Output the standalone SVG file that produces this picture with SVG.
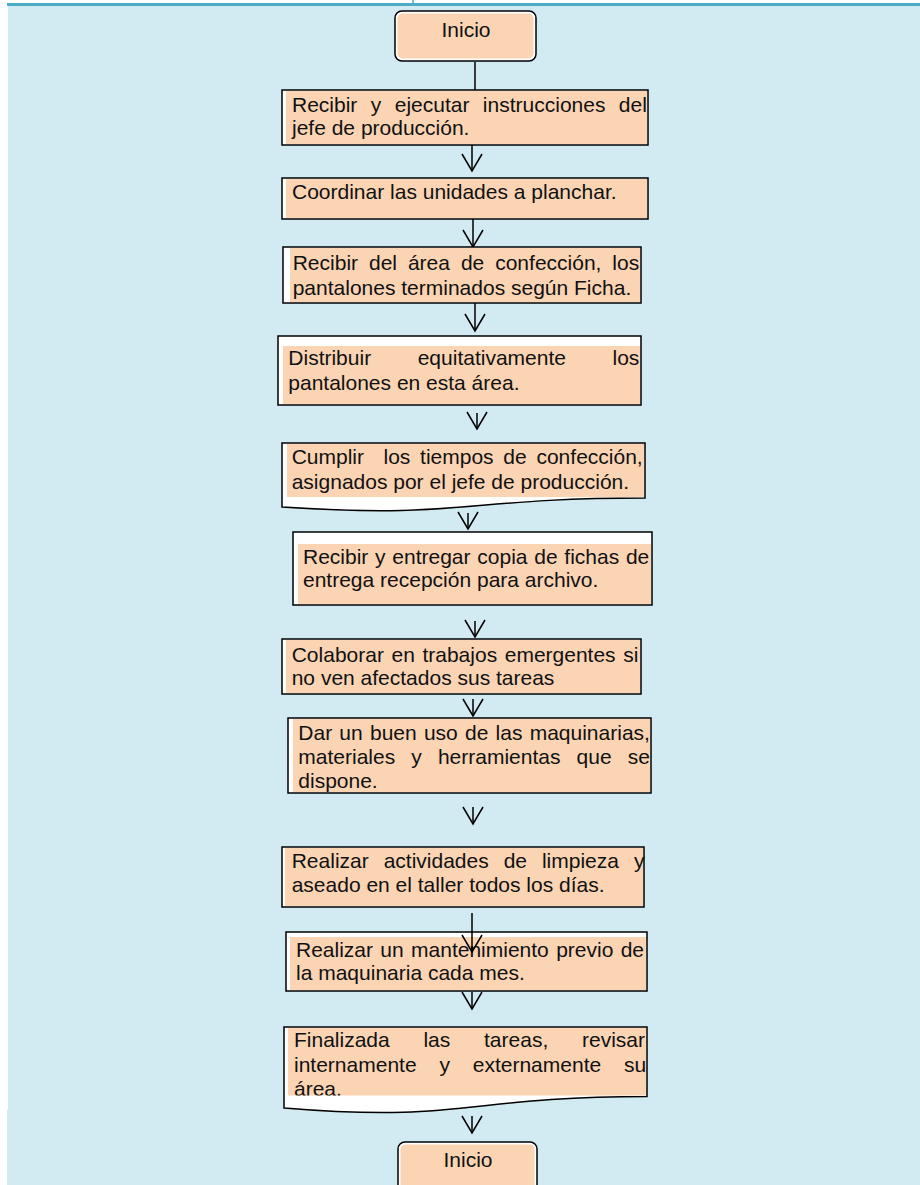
<svg xmlns="http://www.w3.org/2000/svg" width="920" height="1185" viewBox="0 0 920 1185">
<style>
.box{fill:#ffffff;stroke:#000;stroke-width:1.5}
.pe{fill:#FBD4B4}
.t{font-family:"Liberation Sans",Arial,sans-serif;font-size:21px;fill:#111}
.c{stroke:#000;stroke-width:1.5;fill:none}
</style>
<defs>
<marker id="v" viewBox="-18 -11 20 22" refX="0" refY="0" markerWidth="20" markerHeight="22" markerUnits="userSpaceOnUse" orient="auto">
<path d="M-17,-10 L0,0 L-17,10" fill="none" stroke="#000" stroke-width="1.5"/>
</marker>
<clipPath id="clip11"><rect x="280" y="1020" width="380" height="75.5"/></clipPath>
</defs>
<rect x="8" y="6" width="912" height="1179" fill="#D2EAF1"/>
<rect x="7" y="1110" width="2" height="75" fill="#D2EAF1"/>
<rect x="7" y="3" width="913" height="3" fill="#4BACC6"/>
<line x1="413" y1="0" x2="413" y2="3.5" stroke="#4BACC6" stroke-width="1.5"/>

<g id="connectors">
<line class="c" x1="475" y1="62" x2="475" y2="90"/>
<line class="c" x1="472" y1="145" x2="472" y2="171" marker-end="url(#v)"/>
<line class="c" x1="473" y1="219" x2="473" y2="247" marker-end="url(#v)"/>
<line class="c" x1="475" y1="303" x2="475" y2="331" marker-end="url(#v)"/>
<line class="c" x1="477" y1="413" x2="477" y2="429" marker-end="url(#v)"/>
<line class="c" x1="468" y1="513" x2="468" y2="529" marker-end="url(#v)"/>
<line class="c" x1="475" y1="621" x2="475" y2="637" marker-end="url(#v)"/>
<line class="c" x1="473" y1="699" x2="473" y2="716" marker-end="url(#v)"/>
<line class="c" x1="473" y1="807" x2="473" y2="824" marker-end="url(#v)"/>
<line class="c" x1="472" y1="992" x2="472" y2="1009" marker-end="url(#v)"/>
<line class="c" x1="472" y1="1116" x2="472" y2="1133" marker-end="url(#v)"/>
</g>

<g id="start">
<rect class="box" x="395" y="11" width="141" height="50" rx="7"/>
<rect class="pe" x="397.5" y="13.5" width="136" height="45" rx="5"/>
<text class="t" x="466" y="37" text-anchor="middle">Inicio</text>
</g>

<g id="step1">
<rect class="box" x="282" y="90" width="366" height="55"/>
<rect class="pe" x="286" y="91" width="361" height="53"/>
<text class="t" x="292" y="112" word-spacing="7.6">Recibir y ejecutar instrucciones del</text>
<text class="t" x="292" y="135">jefe de producción.</text>
</g>

<g id="step2">
<rect class="box" x="282" y="178" width="366" height="41"/>
<rect class="pe" x="286" y="179" width="361" height="39"/>
<text class="t" x="292" y="199">Coordinar las unidades a planchar.</text>
</g>

<g id="step3">
<rect class="box" x="283" y="247" width="358" height="56"/>
<rect class="pe" x="290" y="248" width="350" height="54"/>
<text class="t" x="292.7" y="270" word-spacing="5.1">Recibir del área de confección, los</text>
<text class="t" x="292.7" y="295">pantalones terminados según Ficha.</text>
</g>

<g id="step4">
<rect class="box" x="278" y="336" width="363" height="69"/>
<rect class="pe" x="283" y="346" width="357" height="58"/>
<text class="t" x="288.3" y="365" word-spacing="40.7">Distribuir equitativamente los</text>
<text class="t" x="288.3" y="390">pantalones en esta área.</text>
</g>

<g id="step5">
<path class="box" d="M282,443 H645 V498 C463.5,498 463.5,519 282,507 Z"/>
<rect class="pe" x="287" y="444" width="357" height="53"/>
<text class="t" x="291.7" y="464" word-spacing="3.9" xml:space="preserve">Cumplir  los tiempos de confección,</text>
<text class="t" x="291.7" y="489">asignados por el jefe de producción.</text>
</g>

<g id="step6">
<rect class="box" x="293" y="532" width="359" height="73"/>
<rect class="pe" x="298" y="544" width="353" height="60"/>
<text class="t" x="303" y="564" word-spacing="0.9">Recibir y entregar copia de fichas de</text>
<text class="t" x="303" y="587">entrega recepción para archivo.</text>
</g>

<g id="step7">
<rect class="box" x="282" y="639" width="359" height="55"/>
<rect class="pe" x="286" y="640" width="354" height="53"/>
<text class="t" x="291.7" y="662" word-spacing="1.75">Colaborar en trabajos emergentes si</text>
<text class="t" x="291.7" y="685">no ven afectados sus tareas</text>
</g>

<g id="step8">
<rect class="box" x="288" y="718" width="363" height="75"/>
<rect class="pe" x="293" y="719" width="357" height="73"/>
<text class="t" x="298.3" y="740" word-spacing="1.4">Dar un buen uso de las maquinarias,</text>
<text class="t" x="298.3" y="764" word-spacing="10.3">materiales y herramientas que se</text>
<text class="t" x="298.3" y="788">dispone.</text>
</g>

<g id="step9">
<rect class="box" x="282" y="847" width="362" height="60"/>
<rect class="pe" x="285" y="848" width="358" height="58"/>
<text class="t" x="291.7" y="868" word-spacing="9.1">Realizar actividades de limpieza y</text>
<text class="t" x="291.7" y="892">aseado en el taller todos los días.</text>
</g>

<g id="step10">
<rect class="box" x="286" y="932" width="361" height="59"/>
<rect class="pe" x="290" y="937" width="356" height="53"/>
<text class="t" x="296" y="957" word-spacing="1.5">Realizar un mantenimiento previo de</text>
<text class="t" x="296" y="980">la maquinaria cada mes.</text>
</g>

<g id="arrow9">
<line class="c" x1="472" y1="913" x2="472" y2="952" marker-end="url(#v)"/>
</g>

<g id="step11">
<path class="box" d="M284,1027 H647 V1096.5 C465.5,1096.5 465.5,1123 284,1108 Z"/>
<rect class="pe" x="288" y="1028" width="358" height="67.5"/>
<text class="t" x="294" y="1047" word-spacing="27.9">Finalizada las tareas, revisar</text>
<text class="t" x="294" y="1072" word-spacing="17">internamente y externamente su</text>
<text class="t" x="294" y="1096" clip-path="url(#clip11)">área.</text>
</g>

<g id="end">
<rect class="box" x="398" y="1142" width="139" height="60" rx="7"/>
<rect class="pe" x="400.5" y="1144.5" width="134" height="55" rx="5"/>
<text class="t" x="468" y="1167" text-anchor="middle">Inicio</text>
</g>
</svg>
